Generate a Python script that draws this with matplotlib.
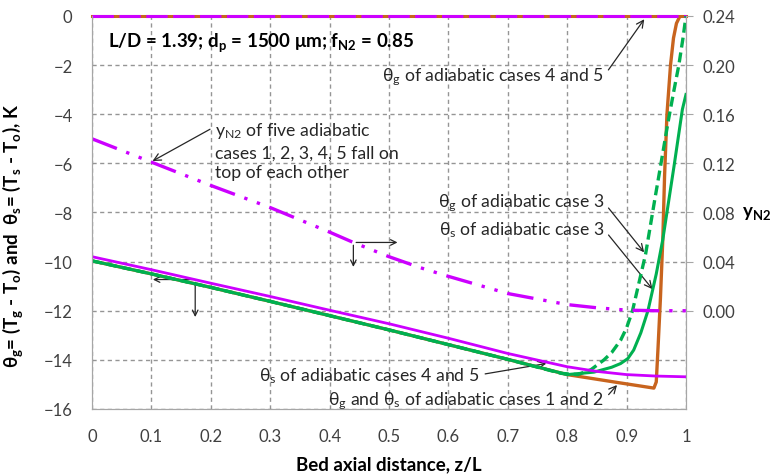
import matplotlib
matplotlib.use('Agg')
import matplotlib.pyplot as plt

plt.rcParams['font.family'] = ['Lato', 'DejaVu Sans']
plt.rcParams['mathtext.default'] = 'regular'

# theta_s of adiabatic cases 4 and 5 (magenta)
z_s45 = [0, 0.1, 0.2, 0.3, 0.4, 0.5, 0.6, 0.7, 0.8, 0.85, 0.9, 0.95, 1.0]
th_s45 = [-9.8, -10.33, -10.88, -11.42, -11.98, -12.53, -13.12, -13.74, -14.28, -14.47, -14.6, -14.66, -14.69]

# theta_g and theta_s of adiabatic cases 1 and 2 (orange)
z_12 = [0, 0.1, 0.2, 0.3, 0.4, 0.5, 0.6, 0.7, 0.8, 0.887, 0.946, 0.95, 0.953, 0.957,
        0.961, 0.964, 0.968, 0.974, 0.979, 0.984, 0.99, 1.0]
th_12 = [-9.97, -10.5, -11.05, -11.62, -12.2, -12.78, -13.38, -13.98, -14.6, -14.93, -15.15, -14.9,
         -13.5, -11.5, -9.1, -6.5, -4.0, -2.0, -0.9, -0.3, 0.0, 0.0]

# theta_g of adiabatic case 3 (green dashed)
z_g3 = [0, 0.1, 0.2, 0.3, 0.4, 0.5, 0.6, 0.7, 0.79, 0.818, 0.84, 0.862, 0.875, 0.89, 0.9, 0.91,
        0.932, 0.948, 0.958, 0.97, 0.98, 0.988, 0.995, 1.0]
th_g3 = [-9.97, -10.5, -11.05, -11.62, -12.2, -12.78, -13.38, -13.98, -14.55, -14.6, -14.4, -14.0,
         -13.7, -13.2, -12.7, -12.0, -9.7, -7.4, -6.0, -4.3, -3.0, -2.0, -0.9, 0.0]

# theta_s of adiabatic case 3 (green solid)
z_s3 = [0, 0.1, 0.2, 0.3, 0.4, 0.5, 0.6, 0.7, 0.8, 0.845, 0.875, 0.89, 0.902, 0.912, 0.924,
        0.936, 0.95, 0.961, 0.98, 0.994, 1.0]
th_s3 = [-9.97, -10.5, -11.05, -11.62, -12.2, -12.78, -13.38, -13.98, -14.6, -14.5, -14.3, -14.15,
         -13.95, -13.6, -12.9, -12.0, -10.5, -9.1, -6.1, -3.8, -3.2]

# theta_g of adiabatic cases 4 and 5 (flat at zero)
z_g45 = [0, 1.0]
th_g45 = [0, 0]

# y_N2 of the five adiabatic cases (right axis)
z_y = [0, 0.1, 0.2, 0.3, 0.4, 0.44, 0.5, 0.553, 0.6, 0.7, 0.8, 0.85, 0.9, 0.95, 1.0]
y_n2 = [0.14, 0.121, 0.102, 0.084, 0.064, 0.0556, 0.044, 0.035, 0.028, 0.014, 0.005, 0.0024, 0.0005, 0.0, 0.0]

x_ticks = [0, 0.1, 0.2, 0.3, 0.4, 0.5, 0.6, 0.7, 0.8, 0.9, 1]
x_labels = ['0', '0.1', '0.2', '0.3', '0.4', '0.5', '0.6', '0.7', '0.8', '0.9', '1']
y_ticks = [-16, -14, -12, -10, -8, -6, -4, -2, 0]
y2_ticks = [0, 0.04, 0.08, 0.12, 0.16, 0.2, 0.24]
y2_labels = ['0.00', '0.04', '0.08', '0.12', '0.16', '0.20', '0.24']

magenta = '#CC00FF'
green = '#00B050'
orange = '#C8641E'
gray = '#A6A6A6'
grid_c = '#959595'
txt = '#262626'

fig = plt.figure(figsize=(7.78, 4.77), dpi=100)
ax = fig.add_axes([0.1183, 0.1405, 0.7634, 0.8239])
ax2 = ax.twinx()
ax2.patch.set_visible(False)

ax.set_xlim(0, 1)
ax.set_ylim(-16, 0)
ax2.set_ylim(-0.08, 0.24)

# dashed grid
ax.grid(True, color=grid_c, linestyle='--', dashes=(3, 2.5), linewidth=1.0, zorder=1)

ax.plot(z_g45, th_g45, color=orange, lw=2.2, zorder=3, clip_on=False)
ax.plot(z_g45, th_g45, color=magenta, lw=2.2, ls=(0, (7, 1.8)), zorder=4, clip_on=False)
ax.plot(z_12, th_12, color=orange, lw=2.4, zorder=3)
ax.plot(z_s3, th_s3, color=green, lw=2.2, zorder=4)
ax.plot(z_g3, th_g3, color=green, lw=2.4, ls=(0, (3, 1.5)), zorder=4)
ax.plot(z_s45, th_s45, color=magenta, lw=2.0, zorder=5)

ax2.plot(z_y, y_n2, color=magenta, lw=2.4, ls=(0, (8, 3, 1, 3, 1, 3)))

ax.set_xticks(x_ticks)
ax.set_xticklabels(x_labels)
ax.set_yticks(y_ticks)
ax2.set_yticks(y2_ticks)
ax2.set_yticklabels(y2_labels)

ax.tick_params(axis='both', length=0, labelsize=12, labelcolor='#404040')
ax.tick_params(axis='x', pad=14)
ax.tick_params(axis='y', pad=14)
ax2.tick_params(axis='y', length=5, color=gray, width=0.8, labelsize=12,
                labelcolor='#404040', pad=7)
for a in (ax, ax2):
    a.spines['top'].set_visible(False)
    for s in ('left', 'bottom', 'right'):
        a.spines[s].set_color(gray)

ax.set_xlabel('Bed axial distance, z/L', fontsize=13.5, fontweight='bold', labelpad=8)
ax.set_ylabel('θ$_{g}$= (T$_{g}$ - T$_{o}$) and  θ$_{s}$= (T$_{s}$ - T$_{o}$), K',
              fontsize=13.5, fontweight='bold')
ax.yaxis.set_label_coords(-0.113, 0.443)
ax.text(1.095, -8, 'y$_{N2}$', transform=ax.get_yaxis_transform(), fontsize=13.5,
        fontweight='bold', ha='left', va='center')

ax.text(0.027, -1.06, 'L/D = 1.39; d$_{p}$ = 1500 μm; f$_{N2}$ = 0.85', fontsize=13.5,
        fontweight='bold', ha='left', va='center')

fs = 12.7
arr = dict(arrowstyle='->', color=txt, lw=0.9)
ax.annotate('y$_{N2}$ of five adiabatic\ncases 1, 2, 3, 4, 5 fall on\ntop of each other',
            xy=(0.0978, -5.96), xytext=(0.2074, -4.25), fontsize=fs, ha='left', va='top',
            linespacing=1.3, color=txt, arrowprops=dict(arr, relpos=(0, 0.9)))
ax.annotate('θ$_{g}$ of adiabatic cases 4 and 5', xy=(0.9325, -0.04), xytext=(0.862, -2.45),
            fontsize=fs, ha='right', va='center', color=txt,
            arrowprops=dict(arr, relpos=(1, 0.5)))
ax.annotate('θ$_{g}$ of adiabatic case 3', xy=(0.9325, -9.71), xytext=(0.862, -7.59),
            fontsize=fs, ha='right', va='center', color=txt,
            arrowprops=dict(arr, relpos=(1, 0.5)))
ax.annotate('θ$_{s}$ of adiabatic case 3', xy=(0.9466, -11.21), xytext=(0.862, -8.69),
            fontsize=fs, ha='right', va='center', color=txt,
            arrowprops=dict(arr, relpos=(1, 0.5)))
ax.annotate('θ$_{s}$ of adiabatic cases 4 and 5', xy=(0.7695, -14.13), xytext=(0.6526, -14.61),
            fontsize=fs, ha='right', va='center', color=txt,
            arrowprops=dict(arr, relpos=(1, 0.5)))
ax.annotate('θ$_{g}$ and θ$_{s}$ of adiabatic cases 1 and 2', xy=(0.887, -14.94),
            xytext=(0.862, -15.63), fontsize=fs, ha='right', va='center', color=txt,
            arrowprops=dict(arr, relpos=(1, 0.5)))

# L-shaped pointers showing which axis each curve family uses
ax.annotate('', xy=(0.519, -9.22), xytext=(0.44, -9.22), arrowprops=arr)
ax.annotate('', xy=(0.44, -10.33), xytext=(0.44, -9.22), arrowprops=arr)
ax.annotate('', xy=(0.0978, -10.73), xytext=(0.1737, -10.73), arrowprops=arr)
ax.annotate('', xy=(0.1737, -12.37), xytext=(0.1737, -10.73), arrowprops=arr)

fig.savefig('out.png', dpi=100)
